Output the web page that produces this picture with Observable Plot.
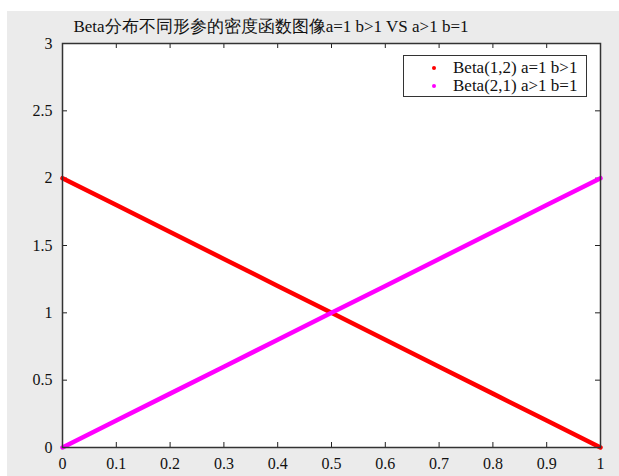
<!DOCTYPE html>
<html><head><meta charset="utf-8">
<script src="https://cdn.jsdelivr.net/npm/d3@7"></script>
<script src="https://cdn.jsdelivr.net/npm/@observablehq/plot@0.6"></script>
<style>
html,body{margin:0;padding:0;background:#fff;width:619px;height:476px;overflow:hidden;font-family:"Liberation Serif","Times New Roman",serif;}
#bg{position:absolute;left:7px;top:11px;width:612px;height:465px;background:#ebebeb;}
#chart{position:absolute;left:7px;top:11px;}
#chart svg text{font-family:"Liberation Serif","Times New Roman",serif !important;font-size:16px !important;fill:#111;}
#title{position:absolute;left:0;top:15px;width:542px;text-align:center;font-size:17px;color:#111;white-space:nowrap;}
#legend{position:absolute;left:403px;top:55px;width:182px;height:40px;border:1.5px solid #333;background:#fff;font-size:17px;color:#111;}
.row{position:absolute;left:0;height:18px;line-height:18px;white-space:nowrap;}
.dot{position:absolute;left:28px;top:7px;width:4px;height:4px;border-radius:50%;}
.lbl{position:absolute;left:49px;top:0;}
</style></head>
<body>
<div id="bg"></div>
<div id="chart"></div>
<div id="title"></div>
<div id="legend"></div>
<script>
const titleText = "Beta分布不同形参的密度函数图像a=1 b>1 VS a>1 b=1";
const xs = [0, 0.1, 0.2, 0.3, 0.4, 0.5, 0.6, 0.7, 0.8, 0.9, 1];
const beta12 = [2, 1.8, 1.6, 1.4, 1.2, 1.0, 0.8, 0.6, 0.4, 0.2, 0];
const beta21 = [0, 0.2, 0.4, 0.6, 0.8, 1.0, 1.2, 1.4, 1.6, 1.8, 2];
const seriesNames = ["Beta(1,2) a=1 b>1", "Beta(2,1) a>1 b=1"];
const seriesColors = ["#ff0000", "#ff00ff"];
const xTicks = [0, 0.1, 0.2, 0.3, 0.4, 0.5, 0.6, 0.7, 0.8, 0.9, 1];
const yTicks = [0, 0.5, 1, 1.5, 2, 2.5, 3];

const data = [];
xs.forEach((x, i) => data.push({x, y: beta12[i], s: seriesNames[0]}));
xs.forEach((x, i) => data.push({x, y: beta21[i], s: seriesNames[1]}));

const fmt = d => String(d);
const W = 612, H = 465, ML = 55, MR = 19, MT = 32, MB = 29;
const IW = W - ML - MR, IH = H - MT - MB, T = 5;
const plot = Plot.plot({
  width: W, height: H,
  marginLeft: ML, marginRight: MR, marginTop: MT, marginBottom: MB,
  style: {background: "transparent", fontFamily: "'Liberation Serif','Times New Roman',serif", fontSize: "16px", color: "#111", overflow: "visible"},
  x: {domain: [0, 1], label: null},
  y: {domain: [0, 3], label: null},
  marks: [
    Plot.frame({fill: "white", stroke: "none"}),
    Plot.ruleX(xTicks, {x: d => d, insetTop: IH - T, stroke: "#222"}),
    Plot.ruleX(xTicks, {x: d => d, insetBottom: IH - T, stroke: "#222"}),
    Plot.ruleY(yTicks, {y: d => d, insetRight: IW - T, stroke: "#222"}),
    Plot.ruleY(yTicks, {y: d => d, insetLeft: IW - T, stroke: "#222"}),
    Plot.line(data.filter(d => d.s === seriesNames[0]), {x: "x", y: "y", stroke: seriesColors[0], strokeWidth: 4.5, strokeLinecap: "round"}),
    Plot.line(data.filter(d => d.s === seriesNames[1]), {x: "x", y: "y", stroke: seriesColors[1], strokeWidth: 4.5, strokeLinecap: "round"}),
    Plot.axisX(xTicks, {anchor: "bottom", tickSize: 0, tickPadding: 10, tickFormat: fmt, fontSize: 16, label: null}),
    Plot.axisY(yTicks, {anchor: "left", tickSize: 0, tickPadding: 10, tickFormat: fmt, fontSize: 16, label: null}),
    Plot.frame({stroke: "#333", strokeWidth: 1.5})
  ]
});
document.getElementById("chart").appendChild(plot);
document.getElementById("title").textContent = titleText;

const leg = document.getElementById("legend");
seriesNames.forEach((n, i) => {
  const row = document.createElement("div");
  row.className = "row";
  row.style.top = (3 + i * 18) + "px";
  row.style.width = "100%";
  const dot = document.createElement("div");
  dot.className = "dot";
  dot.style.background = seriesColors[i];
  const lbl = document.createElement("div");
  lbl.className = "lbl";
  lbl.textContent = n;
  row.appendChild(dot); row.appendChild(lbl);
  leg.appendChild(row);
});
</script>
</body></html>
